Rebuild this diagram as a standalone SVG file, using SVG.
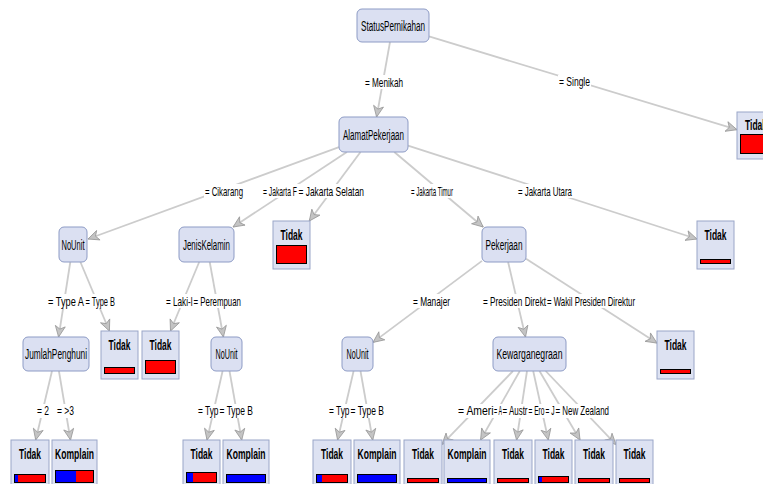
<svg xmlns="http://www.w3.org/2000/svg" width="763" height="484" viewBox="0 0 763 484">
<style>
.edge{stroke:#cccccc;stroke-width:1.8;fill:none;marker-end:url(#arr)}
.lbg{fill:#ffffff}
.lbl{font-family:"Liberation Sans",Arial,sans-serif;font-size:13px;fill:#000}
.inner rect{fill:#dbe0f2;stroke:#8d9bc5;stroke-width:1}
.nl{font-family:"Liberation Sans",Arial,sans-serif;font-size:14px;fill:#000;text-anchor:middle}
.leaf .box{fill:#dde2f2;stroke:#9aa6c8;stroke-width:1}
.ll{font-family:"Liberation Sans",Arial,sans-serif;font-size:15px;font-weight:bold;fill:#000;text-anchor:middle}
.red{fill:#ff0000}
.blue{fill:#0000ff}
.bo{fill:none;stroke:#000;stroke-width:1}
</style>
<defs>
<marker id="arr" markerUnits="userSpaceOnUse" markerWidth="13" markerHeight="12" viewBox="0 0 13 12" refX="12" refY="6" orient="auto">
<path d="M1,1 L12,6 L1,11 L4,6 Z" fill="#c4c4c4" stroke="#999999" stroke-width="0.8"/>
</marker>
</defs>
<rect width="763" height="484" fill="#ffffff"/>
<g id="connectors">
<line class="edge" x1="390" y1="42" x2="376.6" y2="117"/>
<line class="edge" x1="429" y1="36.4" x2="737" y2="129.7"/>
<line class="edge" x1="339" y1="147.1" x2="88" y2="239"/>
<line class="edge" x1="346.9" y1="152" x2="233.1" y2="227"/>
<line class="edge" x1="360.5" y1="152" x2="309.3" y2="221"/>
<line class="edge" x1="394.3" y1="152" x2="483.2" y2="227"/>
<line class="edge" x1="408" y1="145.6" x2="697" y2="239"/>
<line class="edge" x1="70.3" y1="262" x2="58.6" y2="337"/>
<line class="edge" x1="80.4" y1="262" x2="109.4" y2="331"/>
<line class="edge" x1="199.2" y1="262" x2="170.5" y2="331"/>
<line class="edge" x1="209.7" y1="262" x2="223.4" y2="337"/>
<line class="edge" x1="482" y1="260.9" x2="373" y2="342.4"/>
<line class="edge" x1="508.1" y1="262" x2="525.5" y2="337"/>
<line class="edge" x1="526" y1="258.7" x2="657" y2="343.1"/>
<line class="edge" x1="52" y1="371" x2="35.7" y2="440"/>
<line class="edge" x1="58.9" y1="371" x2="70.5" y2="440"/>
<line class="edge" x1="222.6" y1="371" x2="207" y2="440"/>
<line class="edge" x1="229.5" y1="371" x2="241.7" y2="440"/>
<line class="edge" x1="353.6" y1="371" x2="337.6" y2="440"/>
<line class="edge" x1="360.5" y1="371" x2="372.7" y2="440"/>
<line class="edge" x1="513" y1="371" x2="442" y2="444.4"/>
<line class="edge" x1="519.8" y1="371" x2="480.6" y2="440"/>
<line class="edge" x1="527" y1="371" x2="516.6" y2="440"/>
<line class="edge" x1="533.2" y1="371" x2="548.3" y2="440"/>
<line class="edge" x1="539.5" y1="371" x2="580" y2="440"/>
<line class="edge" x1="545.7" y1="371" x2="616" y2="444.6"/>
</g>
<g id="edge-labels">
<rect class="lbg" x="364" y="75" width="40" height="14"/><text class="lbl" x="365" y="86.5" textLength="38" lengthAdjust="spacingAndGlyphs">= Menikah</text>
<rect class="lbg" x="558" y="75" width="33" height="14"/><text class="lbl" x="559" y="86" textLength="31" lengthAdjust="spacingAndGlyphs">= Single</text>
<rect class="lbg" x="204" y="184" width="40" height="14"/><text class="lbl" x="205" y="195.5" textLength="38" lengthAdjust="spacingAndGlyphs">= Cikarang</text>
<rect class="lbg" x="262" y="184" width="37" height="14"/><text class="lbl" x="263" y="195.5" textLength="34" lengthAdjust="spacingAndGlyphs">= Jakarta F</text>
<rect class="lbg" x="298" y="184" width="67" height="14"/><text class="lbl" x="298.5" y="195.5" textLength="65.5" lengthAdjust="spacingAndGlyphs">= Jakarta Selatan</text>
<rect class="lbg" x="410" y="184" width="44" height="14"/><text class="lbl" x="411" y="195.5" textLength="42" lengthAdjust="spacingAndGlyphs">= Jakarta Timur</text>
<rect class="lbg" x="517" y="184" width="56" height="14"/><text class="lbl" x="518" y="195.5" textLength="54" lengthAdjust="spacingAndGlyphs">= Jakarta Utara</text>
<rect class="lbg" x="47" y="294" width="39" height="14"/><text class="lbl" x="48" y="305.5" textLength="36" lengthAdjust="spacingAndGlyphs">= Type A</text>
<rect class="lbg" x="85" y="294" width="31" height="14"/><text class="lbl" x="85.5" y="305.5" textLength="29.5" lengthAdjust="spacingAndGlyphs">= Type B</text>
<rect class="lbg" x="165" y="294" width="29" height="14"/><text class="lbl" x="166" y="305.5" textLength="26.5" lengthAdjust="spacingAndGlyphs">= Laki-l</text>
<rect class="lbg" x="193" y="294" width="49" height="14"/><text class="lbl" x="193.5" y="305.5" textLength="47.5" lengthAdjust="spacingAndGlyphs">= Perempuan</text>
<rect class="lbg" x="412" y="294" width="39" height="14"/><text class="lbl" x="413" y="305.5" textLength="37" lengthAdjust="spacingAndGlyphs">= Manajer</text>
<rect class="lbg" x="482" y="294" width="66" height="14"/><text class="lbl" x="483" y="305.5" textLength="63" lengthAdjust="spacingAndGlyphs">= Presiden Direkt</text>
<rect class="lbg" x="547" y="294" width="89" height="14"/><text class="lbl" x="547" y="305.5" textLength="88" lengthAdjust="spacingAndGlyphs">= Wakil Presiden Direktur</text>
<rect class="lbg" x="36" y="404" width="14" height="14"/><text class="lbl" x="37" y="415" textLength="12" lengthAdjust="spacingAndGlyphs">= 2</text>
<rect class="lbg" x="56" y="404" width="19" height="14"/><text class="lbl" x="57" y="415" textLength="17" lengthAdjust="spacingAndGlyphs">= &gt;3</text>
<rect class="lbg" x="197" y="404" width="23" height="14"/><text class="lbl" x="198" y="415" textLength="20.5" lengthAdjust="spacingAndGlyphs">= Typ</text>
<rect class="lbg" x="219" y="404" width="35" height="14"/><text class="lbl" x="219.5" y="415" textLength="33.5" lengthAdjust="spacingAndGlyphs">= Type B</text>
<rect class="lbg" x="328" y="404" width="23" height="14"/><text class="lbl" x="329" y="415" textLength="20.5" lengthAdjust="spacingAndGlyphs">= Typ</text>
<rect class="lbg" x="350" y="404" width="35" height="14"/><text class="lbl" x="350.5" y="415" textLength="33.5" lengthAdjust="spacingAndGlyphs">= Type B</text>
<rect class="lbg" x="457" y="404" width="38" height="14"/><text class="lbl" x="458" y="415" textLength="35.5" lengthAdjust="spacingAndGlyphs">= Ameri</text>
<rect class="lbg" x="494" y="404" width="9" height="14"/><text class="lbl" x="494" y="415" textLength="8" lengthAdjust="spacingAndGlyphs">= A</text>
<rect class="lbg" x="502" y="404" width="27" height="14"/><text class="lbl" x="502.5" y="415" textLength="25" lengthAdjust="spacingAndGlyphs">= Austr</text>
<rect class="lbg" x="528" y="404" width="18" height="14"/><text class="lbl" x="528.5" y="415" textLength="16" lengthAdjust="spacingAndGlyphs">= Ero</text>
<rect class="lbg" x="545" y="404" width="11" height="14"/><text class="lbl" x="545.5" y="415" textLength="9" lengthAdjust="spacingAndGlyphs">= J</text>
<rect class="lbg" x="555" y="404" width="55" height="14"/><text class="lbl" x="555.5" y="415" textLength="53.5" lengthAdjust="spacingAndGlyphs">= New Zealand</text>
</g>
<g id="n-status" class="inner"><rect x="357" y="9" width="72" height="33" rx="5"/><text class="nl" x="393" y="30.5" textLength="64" lengthAdjust="spacingAndGlyphs">StatusPernikahan</text></g>
<g id="n-alamat" class="inner"><rect x="339" y="117" width="69" height="35" rx="5"/><text class="nl" x="373.5" y="139.5" textLength="61" lengthAdjust="spacingAndGlyphs">AlamatPekerjaan</text></g>
<g id="n-nounit1" class="inner"><rect x="59" y="227" width="28" height="35" rx="5"/><text class="nl" x="73" y="249.5" textLength="23" lengthAdjust="spacingAndGlyphs">NoUnit</text></g>
<g id="n-jenis" class="inner"><rect x="179" y="227" width="55" height="35" rx="5"/><text class="nl" x="206.5" y="249.5" textLength="47" lengthAdjust="spacingAndGlyphs">JenisKelamin</text></g>
<g id="n-pekerjaan" class="inner"><rect x="482" y="227" width="44" height="35" rx="5"/><text class="nl" x="504" y="249.5" textLength="37" lengthAdjust="spacingAndGlyphs">Pekerjaan</text></g>
<g id="n-jumlah" class="inner"><rect x="23" y="337" width="66" height="34" rx="5"/><text class="nl" x="56" y="359" textLength="62" lengthAdjust="spacingAndGlyphs">JumlahPenghuni</text></g>
<g id="n-nounit2" class="inner"><rect x="211" y="337" width="31" height="34" rx="5"/><text class="nl" x="226.5" y="359" textLength="22" lengthAdjust="spacingAndGlyphs">NoUnit</text></g>
<g id="n-nounit3" class="inner"><rect x="342" y="337" width="31" height="34" rx="5"/><text class="nl" x="357.5" y="359" textLength="22" lengthAdjust="spacingAndGlyphs">NoUnit</text></g>
<g id="n-kewarga" class="inner"><rect x="493" y="337" width="73" height="34" rx="5"/><text class="nl" x="529.5" y="359" textLength="66" lengthAdjust="spacingAndGlyphs">Kewarganegraan</text></g>
<g id="leaf-single" class="leaf"><rect class="box" x="737" y="112" width="38" height="47"/><text class="ll" x="756" y="130" textLength="22" lengthAdjust="spacingAndGlyphs">Tidak</text><rect class="red" x="740" y="134" width="32" height="20"/><rect class="bo" x="740.5" y="134.5" width="31" height="19"/></g>
<g id="leaf-jakpus" class="leaf"><rect class="box" x="273" y="221" width="37" height="48"/><text class="ll" x="291.5" y="239.5" textLength="22" lengthAdjust="spacingAndGlyphs">Tidak</text><rect class="red" x="276" y="245" width="31" height="19"/><rect class="bo" x="276.5" y="245.5" width="30" height="18"/></g>
<g id="leaf-jakut" class="leaf"><rect class="box" x="697" y="221" width="37" height="48"/><text class="ll" x="715.5" y="239.5" textLength="22" lengthAdjust="spacingAndGlyphs">Tidak</text><rect class="red" x="700" y="259" width="31" height="5"/><rect class="bo" x="700.5" y="259.5" width="30" height="4"/></g>
<g id="leaf-typeb1" class="leaf"><rect class="box" x="101" y="331" width="37" height="48"/><text class="ll" x="119.5" y="349.5" textLength="22" lengthAdjust="spacingAndGlyphs">Tidak</text><rect class="red" x="104" y="367" width="31" height="7"/><rect class="bo" x="104.5" y="367.5" width="30" height="6"/></g>
<g id="leaf-laki" class="leaf"><rect class="box" x="142" y="331" width="37" height="48"/><text class="ll" x="160.5" y="349.5" textLength="22" lengthAdjust="spacingAndGlyphs">Tidak</text><rect class="red" x="145" y="360" width="31" height="14"/><rect class="bo" x="145.5" y="360.5" width="30" height="13"/></g>
<g id="leaf-wakil" class="leaf"><rect class="box" x="657" y="331" width="37" height="48"/><text class="ll" x="675.5" y="349.5" textLength="22" lengthAdjust="spacingAndGlyphs">Tidak</text><rect class="red" x="660" y="369" width="31" height="5"/><rect class="bo" x="660.5" y="369.5" width="30" height="4"/></g>
<g id="leaf-2" class="leaf"><rect class="box" x="11" y="440" width="38" height="48"/><text class="ll" x="30" y="458.5" textLength="22" lengthAdjust="spacingAndGlyphs">Tidak</text><rect class="red" x="14" y="474" width="32" height="9"/><rect class="blue" x="14" y="474" width="4" height="9"/><rect class="bo" x="14.5" y="474.5" width="31" height="8"/></g>
<g id="leaf-3" class="leaf"><rect class="box" x="52" y="440" width="45" height="48"/><text class="ll" x="74.5" y="458.5" textLength="39" lengthAdjust="spacingAndGlyphs">Komplain</text><rect class="red" x="55" y="470" width="39" height="13"/><rect class="blue" x="55" y="470" width="21" height="13"/><rect class="bo" x="55.5" y="470.5" width="38" height="12"/></g>
<g id="leaf-typa2" class="leaf"><rect class="box" x="183" y="440" width="37" height="48"/><text class="ll" x="201.5" y="458.5" textLength="22" lengthAdjust="spacingAndGlyphs">Tidak</text><rect class="red" x="186" y="472" width="31" height="11"/><rect class="blue" x="186" y="472" width="7" height="11"/><rect class="bo" x="186.5" y="472.5" width="30" height="10"/></g>
<g id="leaf-typb2" class="leaf"><rect class="box" x="223" y="440" width="46" height="48"/><text class="ll" x="246" y="458.5" textLength="39" lengthAdjust="spacingAndGlyphs">Komplain</text><rect class="blue" x="226" y="474" width="40" height="9"/><rect class="bo" x="226.5" y="474.5" width="39" height="8"/></g>
<g id="leaf-typa3" class="leaf"><rect class="box" x="313" y="440" width="38" height="48"/><text class="ll" x="332" y="458.5" textLength="22" lengthAdjust="spacingAndGlyphs">Tidak</text><rect class="red" x="316" y="474" width="32" height="9"/><rect class="blue" x="316" y="474" width="6" height="9"/><rect class="bo" x="316.5" y="474.5" width="31" height="8"/></g>
<g id="leaf-typb3" class="leaf"><rect class="box" x="354" y="440" width="46" height="48"/><text class="ll" x="377" y="458.5" textLength="39" lengthAdjust="spacingAndGlyphs">Komplain</text><rect class="blue" x="357" y="474" width="40" height="9"/><rect class="bo" x="357.5" y="474.5" width="39" height="8"/></g>
<g id="leaf-amerika" class="leaf"><rect class="box" x="404" y="440" width="38" height="48"/><text class="ll" x="423" y="458.5" textLength="22" lengthAdjust="spacingAndGlyphs">Tidak</text><rect class="red" x="407" y="478" width="32" height="5"/><rect class="bo" x="407.5" y="478.5" width="31" height="4"/></g>
<g id="leaf-asia" class="leaf"><rect class="box" x="444" y="440" width="46" height="48"/><text class="ll" x="467" y="458.5" textLength="39" lengthAdjust="spacingAndGlyphs">Komplain</text><rect class="blue" x="447" y="478" width="40" height="5"/><rect class="bo" x="447.5" y="478.5" width="39" height="4"/></g>
<g id="leaf-australia" class="leaf"><rect class="box" x="494" y="440" width="38" height="48"/><text class="ll" x="513" y="458.5" textLength="22" lengthAdjust="spacingAndGlyphs">Tidak</text><rect class="red" x="497" y="478" width="32" height="5"/><rect class="bo" x="497.5" y="478.5" width="31" height="4"/></g>
<g id="leaf-eropa" class="leaf"><rect class="box" x="535" y="440" width="37" height="48"/><text class="ll" x="553.5" y="458.5" textLength="22" lengthAdjust="spacingAndGlyphs">Tidak</text><rect class="red" x="538" y="476" width="31" height="7"/><rect class="blue" x="538" y="476" width="4" height="7"/><rect class="bo" x="538.5" y="476.5" width="30" height="6"/></g>
<g id="leaf-jepang" class="leaf"><rect class="box" x="575" y="440" width="38" height="48"/><text class="ll" x="594" y="458.5" textLength="22" lengthAdjust="spacingAndGlyphs">Tidak</text><rect class="red" x="578" y="478" width="32" height="5"/><rect class="bo" x="578.5" y="478.5" width="31" height="4"/></g>
<g id="leaf-nz" class="leaf"><rect class="box" x="616" y="440" width="37" height="48"/><text class="ll" x="634.5" y="458.5" textLength="22" lengthAdjust="spacingAndGlyphs">Tidak</text><rect class="red" x="619" y="478" width="31" height="5"/><rect class="bo" x="619.5" y="478.5" width="30" height="4"/></g>
</svg>
